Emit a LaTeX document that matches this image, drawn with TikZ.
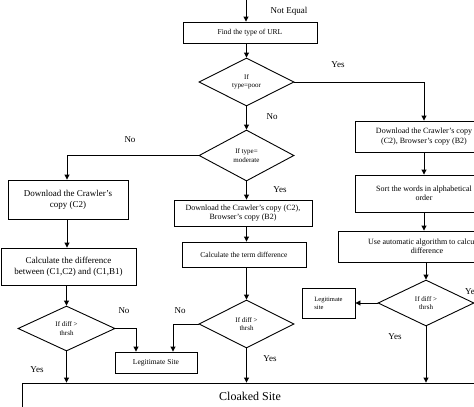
\documentclass[tikz,border=0pt]{standalone}
\usepackage{fontspec}
\setmainfont{Liberation Serif}
\usetikzlibrary{shapes.geometric,arrows.meta,calc}
\begin{document}
\begin{tikzpicture}[x=1pt,y=-1pt,
  box/.style={draw,line width=0.9pt,rectangle,inner sep=1pt,align=center,font=\fontsize{7.5}{9}\selectfont},
  dia/.style={draw,line width=0.9pt,diamond,inner sep=0pt,align=center,font=\fontsize{7}{8.5}\selectfont},
  lab/.style={font=\fontsize{9}{10}\selectfont,inner sep=0pt},
  arr/.style={line width=0.9pt,-{Triangle[length=5pt,width=5pt]}},
  ln/.style={line width=0.9pt}]
\useasboundingbox (0,0) rectangle (474,407);
\clip (0,0) rectangle (474,407);
\coordinate (top) at (246,0);
\node[box,minimum width=134pt,minimum height=21pt] (url) at (250,32.5) {Find the type of URL};
\node[dia,minimum width=95pt,minimum height=48pt] (dpoor) at (246.5,82) {If\\type=poor};
\node[dia,minimum width=95pt,minimum height=51pt] (dmod) at (246.5,155.5) {If type=\\moderate};
\node[box,minimum width=120pt,minimum height=39pt,font=\fontsize{9}{11}\selectfont] (lc2) at (68,199.5) {Download the Crawler's\\copy (C2)};
\node[box,minimum width=135pt,minimum height=37pt,font=\fontsize{9}{11}\selectfont] (ldiff) at (68.5,266.5) {Calculate the difference\\between (C1,C2) and (C1,B1)};
\node[dia,minimum width=97pt,minimum height=45pt] (ldia) at (66.5,328.5) {If diff >\\thrsh};
\node[box,minimum width=82pt,minimum height=21pt] (legit) at (156,362.5) {Legitimate Site};
\node[box,minimum width=138pt,minimum height=26pt,font=\fontsize{8}{9}\selectfont] (mc2) at (243,213) {Download the Crawler's copy (C2),\\Browser's copy (B2)};
\node[box,minimum width=124pt,minimum height=25pt] (mterm) at (244,254.5) {Calculate the term difference};
\node[dia,minimum width=95pt,minimum height=48pt] (mdia) at (246.5,324) {If diff >\\thrsh};
\node[box,minimum width=138pt,minimum height=31pt,font=\fontsize{8}{9.5}\selectfont] (rc2) at (424,136.5) {Download the Crawler's copy\\(C2), Browser's copy (B2)};
\node[box,minimum width=138pt,minimum height=37pt,font=\fontsize{8}{9.5}\selectfont] (rsort) at (424,193.5) {Sort the words in alphabetical\\order};
\node[box,minimum width=178pt,minimum height=31pt,font=\fontsize{8}{9.5}\selectfont] (ralg) at (427,246.5) {Use automatic algorithm to calculate\\difference};
\node[dia,minimum width=96pt,minimum height=46pt] (rdia) at (426,303) {If diff >\\thrsh};
\node[box,minimum width=53pt,minimum height=30pt,align=left,font=\fontsize{6.5}{8}\selectfont] (rlegit) at (328.5,303) {Legitimate\\site};
\node[box,minimum width=456pt,minimum height=26pt,font=\fontsize{12}{14}\selectfont] (cloak) at (250,396) {Cloaked Site};
% labels
\node[lab] (l1) at (289,11) {Not Equal};
\node[lab] (l2) at (338,65) {Yes};
\node[lab] (l3) at (272,117) {No};
\node[lab] (l4) at (130,140) {No};
\node[lab] (l5) at (280,190) {Yes};
\node[lab] (l6) at (124,311) {No};
\node[lab] (l7) at (180,311) {No};
\node[lab] (l8) at (37,370) {Yes};
\node[lab] (l9) at (270,359) {Yes};
\node[lab] (l10) at (395,337) {Yes};
\node[lab,anchor=west] (l11) at (465,292) {Yes};
% connectors
\draw[arr] (top) -- (top |- url.north);
\draw[arr] (dpoor.north |- url.south) -- (dpoor.north);
\draw[arr] (dpoor.east) -| (rc2.north);
\draw[arr] (dpoor.south) -- (dmod.north);
\draw[arr] (dmod.west) -| ([xshift=-1pt]lc2.north);
\draw[arr] ([xshift=-1pt]lc2.south) -- ([xshift=-1pt]lc2.south |- ldiff.north);
\draw[arr] (ldia.north |- ldiff.south) -- (ldia.north);
\draw[arr] (ldia.east) -| ([xshift=-20pt]legit.north);
\draw[arr] (mdia.west) -| ([xshift=17pt]legit.north);
\draw[arr] (ldia.south) -- (ldia.south |- cloak.north);
\draw[arr] (dmod.south) -- (dmod.south |- mc2.north);
\draw[arr] (dmod.south |- mc2.south) -- (dmod.south |- mterm.north);
\draw[arr] (mdia.north |- mterm.south) -- (mdia.north);
\draw[arr] (mdia.south) -- (mdia.south |- cloak.north);
\draw[arr] (rc2.south) -- (rsort.north);
\draw[arr] (rsort.south) -- (rsort.south |- ralg.north);
\draw[arr] (rdia.north |- ralg.south) -- (rdia.north);
\draw[arr] (rdia.west) -- (rlegit.east);
\draw[arr] (rdia.south) -- (rdia.south |- cloak.north);
\end{tikzpicture}
\end{document}
